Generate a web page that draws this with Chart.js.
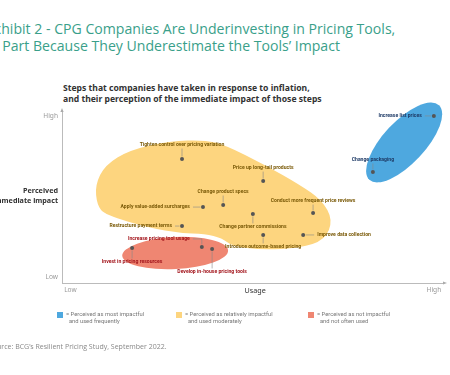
<!DOCTYPE html>
<html>
<head>
<meta charset="utf-8">
<script src="https://cdn.jsdelivr.net/npm/chart.js@4.4.0/dist/chart.umd.min.js"></script>
<style>
  html, body { margin: 0; padding: 0; background: #fff; overflow: hidden; }
  body { width: 450px; height: 375px; position: relative; font-family: "Open Sans", sans-serif; }
  #chart { position: absolute; left: 0; top: 0; }
  .title { position: absolute; left: -14px; top: 20px; color: #3a9f8a; font-size: 14.1px; line-height: 17px; white-space: nowrap; }
  .sub { position: absolute; left: 63px; top: 83px; font-family: "Noto Sans", sans-serif; font-weight: 700; font-size: 8.6px; line-height: 11px; color: #333; white-space: nowrap; }
  .leg { position: absolute; top: 311px; font-family: Roboto, sans-serif; font-size: 5.8px; line-height: 7px; color: #777; white-space: nowrap; }
  .leg i { position: absolute; left: 0; top: 1px; width: 6px; height: 6px; }
  .leg span { position: absolute; left: 9px; top: 0; }
  .src { position: absolute; left: -11px; top: 342px; font-size: 7px; color: #888; white-space: nowrap; }
</style>
</head>
<body>
<div class="title">Exhibit 2 - CPG Companies Are Underinvesting in Pricing Tools,<br>In Part Because They Underestimate the Tools’ Impact</div>
<div class="sub">Steps that companies have taken in response to inflation,<br>and their perception of the immediate impact of those steps</div>
<canvas id="chart" width="450" height="375"></canvas>
<div id="legend"></div>
<div class="src">Source: BCG’s Resilient Pricing Study, September 2022.</div>
<script>
// steps, usage (x, 0-100) and perceived impact (y, 0-100)
const steps = [
  "Increase list prices", "Change packaging",
  "Tighten control over pricing variation", "Price up long-tail products", "Change product specs",
  "Apply value-added surcharges", "Conduct more frequent price reviews", "Change partner commissions",
  "Improve data collection", "Introduce outcome-based pricing", "Restructure payment terms",
  "Increase pricing tool usage", "Develop in-house pricing tools", "Invest in pricing resources"
];
const usage  = [97.6, 81.6, 31.5, 52.8, 42.3, 37.0, 65.9, 50.1, 63.3, 52.8, 31.5, 36.7, 39.4, 18.4];
const impact = [97.7, 64.9, 72.5, 59.6, 45.6, 44.4, 40.9, 40.4, 28.1, 28.1, 33.3, 21.1, 19.9, 20.5];
const stepGroup = [0, 0, 1, 1, 1, 1, 1, 1, 1, 1, 1, 2, 2, 2];

const groupNames = [
  ["= Perceived as most impactful", "and used frequently"],
  ["= Perceived as relatively impactful", "and used moderately"],
  ["= Perceived as not impactful", "and not often used"]
];
const groupColors = ["#4ea8df", "#fdd57f", "#ef8672"];
const groupText = ["#1e3a66", "#7a5a08", "#a3151c"];

const xTickValues = [2.2, 50.7, 97.6];
const xTickLabels = ["Low", "Usage", "High"];
const yTickValues = [3.5, 50.9, 97.7];
const yTickLabels = ["Low", ["Perceived", "immediate impact"], "High"];

// yellow cluster outline (usage, impact)
const yellowX = [42.8, 53.3, 62.5, 68.2, 71.1, 69.0, 62.5, 52.5, 44.6, 42.0, 37.5, 31.0, 23.1, 11.3, 9.2, 8.7, 11.3, 17.8, 28.3, 37.5];
const yellowY = [80.7, 69.0, 57.3, 48.5, 36.8, 25.1, 20.5, 19.3, 21.6, 26.3, 28.7, 29.2, 32.2, 39.8, 45.6, 57.3, 69.0, 77.8, 83.0, 83.6];

// label placement: side of the dot and leader length (px)
const labelSide = ["left", "above", "above", "above", "above", "left", "above", "below", "right", "below", "left", "elbow", "below", "below"];
const labelGap  = [12, 12, 14, 13, 13, 13, 12, 13, 14, 12, 10, 8, 23, 14];

const legend = document.getElementById("legend");
const legLeft = [57, 176, 308];
groupNames.forEach((g, i) => {
  const d = document.createElement("div");
  d.className = "leg";
  d.style.left = legLeft[i] + "px";
  d.innerHTML = `<i style="background:${groupColors[i]}"></i><span>${g[0]}<br>&nbsp;&nbsp;${g[1]}</span>`;
  legend.appendChild(d);
});

const datasets = groupNames.map((_, gi) => ({
  data: steps.map((s, i) => ({ x: usage[i], y: impact[i], i })).filter(p => stepGroup[p.i] === gi),
  pointRadius: 2,
  pointHoverRadius: 2,
  pointBackgroundColor: "#555",
  pointBorderWidth: 0
}));

function smoothPath(ctx, pts) {
  const n = pts.length;
  const mid = (a, b) => [(a[0] + b[0]) / 2, (a[1] + b[1]) / 2];
  const start = mid(pts[n - 1], pts[0]);
  ctx.beginPath();
  ctx.moveTo(start[0], start[1]);
  for (let k = 0; k < n; k++) {
    const p = pts[k], m = mid(p, pts[(k + 1) % n]);
    ctx.quadraticCurveTo(p[0], p[1], m[0], m[1]);
  }
  ctx.closePath();
}

const shapes = {
  id: "shapes",
  beforeDatasetsDraw(chart) {
    const { ctx, scales: { x, y } } = chart;
    ctx.save();
    // yellow cluster
    ctx.fillStyle = groupColors[1];
    smoothPath(ctx, yellowX.map((v, k) => [x.getPixelForValue(v), y.getPixelForValue(yellowY[k])]));
    ctx.fill();
    // red cluster
    ctx.fillStyle = groupColors[2];
    ctx.beginPath();
    ctx.ellipse(x.getPixelForValue(29.7), y.getPixelForValue(17.5), 53, 16, -0.05, 0, Math.PI * 2);
    ctx.fill();
    // blue cluster
    ctx.fillStyle = groupColors[0];
    ctx.beginPath();
    ctx.ellipse(x.getPixelForValue(89.8), y.getPixelForValue(82.2), 51, 21, -0.82, 0, Math.PI * 2);
    ctx.fill();
    ctx.restore();
  }
};

const pointLabels = {
  id: "pointLabels",
  afterDatasetsDraw(chart) {
    const { ctx, scales: { x, y } } = chart;
    ctx.save();
    ctx.font = "bold 5.1px Roboto";
    ctx.strokeStyle = "#888";
    ctx.lineWidth = 0.6;
    steps.forEach((s, i) => {
      const px = x.getPixelForValue(usage[i]), py = y.getPixelForValue(impact[i]);
      const gap = labelGap[i], side = labelSide[i];
      ctx.fillStyle = groupText[stepGroup[i]];
      ctx.textBaseline = "middle";
      ctx.beginPath();
      if (side === "above") {
        ctx.moveTo(px, py - 2.5); ctx.lineTo(px, py - gap + 3.5);
        ctx.textAlign = "center"; ctx.fillText(s, px, py - gap);
      } else if (side === "below") {
        ctx.moveTo(px, py + 2.5); ctx.lineTo(px, py + gap - 3.5);
        ctx.textAlign = "center"; ctx.fillText(s, px, py + gap);
      } else if (side === "left") {
        ctx.moveTo(px - 2.5, py); ctx.lineTo(px - gap + 3, py);
        ctx.textAlign = "right"; ctx.fillText(s, px - gap, py);
      } else if (side === "right") {
        ctx.moveTo(px + 2.5, py); ctx.lineTo(px + gap - 3, py);
        ctx.textAlign = "left"; ctx.fillText(s, px + gap, py);
      } else {
        ctx.moveTo(px, py - 2.5); ctx.lineTo(px, py - gap); ctx.lineTo(px - 9, py - gap);
        ctx.textAlign = "right"; ctx.fillText(s, px - 12, py - gap);
      }
      ctx.stroke();
    });
    ctx.restore();
  }
};

const arrows = {
  id: "arrows",
  afterDraw(chart) {
    const { ctx, chartArea: a } = chart;
    ctx.save();
    ctx.fillStyle = "#aaa";
    ctx.beginPath();
    ctx.moveTo(a.left, a.top - 4); ctx.lineTo(a.left - 1.6, a.top); ctx.lineTo(a.left + 1.6, a.top);
    ctx.fill();
    ctx.beginPath();
    ctx.moveTo(a.right + 4, a.bottom); ctx.lineTo(a.right, a.bottom - 1.6); ctx.lineTo(a.right, a.bottom + 1.6);
    ctx.fill();
    ctx.restore();
  }
};

const tickFont = (ctx, bold) => ctx.index === 1
  ? { family: "Noto Sans", size: 7.2, weight: bold ? "bold" : "normal", lineHeight: 1.35 }
  : { family: "Noto Sans", size: 6.6, weight: "normal" };

new Chart(document.getElementById("chart"), {
  type: "scatter",
  data: { datasets },
  options: {
    responsive: false,
    animation: false,
    devicePixelRatio: 1,
    layout: { padding: { left: 0, top: 112, right: 7, bottom: 70 } },
    plugins: { legend: { display: false }, tooltip: { enabled: false } },
    scales: {
      x: {
        min: 0, max: 100,
        grid: { display: false, drawTicks: false },
        border: { display: true, color: "#bbb", width: 1 },
        afterBuildTicks: s => { s.ticks = xTickValues.map(v => ({ value: v })); },
        afterFit: s => { s.height = 22; },
        ticks: {
          padding: 3,
          maxRotation: 0,
          autoSkip: false,
          callback: (v, i) => xTickLabels[i],
          color: c => c.index === 1 ? "#333" : "#999",
          font: c => tickFont(c, false)
        }
      },
      y: {
        min: 0, max: 100,
        grid: { display: false, drawTicks: false },
        border: { display: true, color: "#bbb", width: 1 },
        afterBuildTicks: s => { s.ticks = yTickValues.map(v => ({ value: v })); },
        afterFit: s => { s.width = 62; },
        ticks: {
          padding: 4,
          autoSkip: false,
          callback: (v, i) => yTickLabels[i],
          color: c => c.index === 1 ? "#333" : "#999",
          font: c => tickFont(c, true)
        }
      }
    }
  },
  plugins: [shapes, pointLabels, arrows]
});
</script>
</body>
</html>
